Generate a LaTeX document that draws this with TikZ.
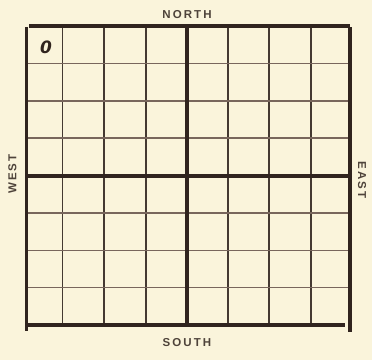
\documentclass[tikz,border=0pt]{standalone}
\usepackage{fontspec}
\newfontfamily\compassfont[LetterSpace=18]{Liberation Sans Bold}
\newfontfamily\markfont{DejaVu Sans}
\usetikzlibrary{positioning}
\definecolor{paper}{RGB}{250,244,219}
\definecolor{ink}{RGB}{48,36,30}
\definecolor{faint}{RGB}{120,102,92}
\tikzset{
    heavy/.style={line width=3.2pt, draw=ink},
    thinv/.style={line width=1.6pt, draw=ink!90!paper},
    thinh/.style={line width=1.5pt, draw=faint},
    compass/.style={font=\compassfont\fontsize{11.5}{13}\selectfont, text=ink!85!paper, inner sep=0pt}
}

\begin{document}
\begin{tikzpicture}[x=1pt, y=-1pt]
  \fill[paper] (0,0) rectangle (372,360);
  \useasboundingbox (0,0) rectangle (372,360);
  % thin grid
  \foreach \gx in {62.5,104,146,228,269,311}
    \draw[thinv] (\gx,26) -- (\gx,325);
  \foreach \gy in {63.4,100.8,138.1,212.9,250.3,287.6}
    \draw[thinh] (27,\gy) -- (349.5,\gy);
  % frame and axes
  \draw[heavy] (29,26) -- (350,26);
  \draw[heavy] (27,325) -- (345,325);
  \draw[heavy] (26.5,27) -- (26.5,331);
  \draw[heavy] (350,27) -- (350,332);
  \draw[heavy] (187,26) -- (187,325);
  \draw[heavy] (27,176) -- (350,176);
  % labels
  \node[compass] (north) at (187,15) {NORTH};
  \node[compass] (south) at (187,343) {SOUTH};
  \node[compass, rotate=90] (west) at (12.5,174) {WEST};
  \node[compass, rotate=-90] (east) at (362,180) {EAST};
  \node[font=\markfont\bfseries\itshape\fontsize{17}{17}\selectfont, text=ink] (zero) at (46,47) {0};
\end{tikzpicture}
\end{document}
